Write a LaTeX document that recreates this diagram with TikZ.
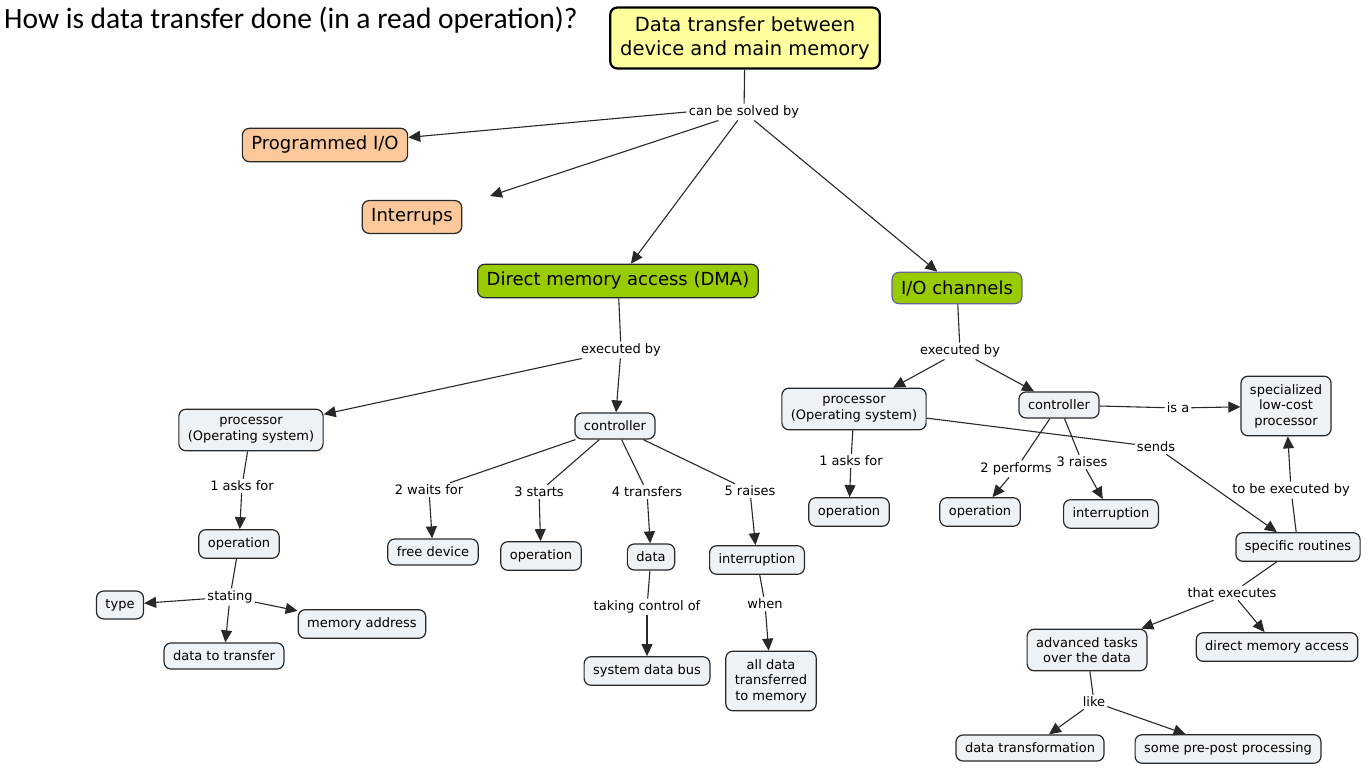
\documentclass[tikz,border=0pt]{standalone}
\usepackage{fontspec}
\setmainfont{DejaVu Sans}
\newfontfamily\titlefont{Carlito}
\usepackage{xcolor}
\usepackage{tikz}
\usetikzlibrary{arrows.meta, positioning, calc}

\definecolor{rootyellow}{RGB}{255,255,158}
\definecolor{methodpeach}{RGB}{250,200,155}
\definecolor{methodgreen}{RGB}{153,204,0}
\definecolor{conceptfill}{RGB}{236,242,245}
\definecolor{linegray}{RGB}{40,40,40}

\tikzset{
  concept/.style={draw=linegray, line width=1.2pt, rounded corners=7pt, fill=conceptfill,
    inner xsep=9pt, inner ysep=8pt, align=center, font=\fontsize{13}{15.5}\selectfont},
  method/.style={concept, fill=methodpeach, font=\fontsize{18}{21}\selectfont, inner ysep=8pt},
  dmabox/.style={method, fill=methodgreen},
  rootbox/.style={concept, fill=rootyellow, draw=black, line width=2.2pt,
    font=\fontsize{19.5}{24}\selectfont, inner xsep=10pt, inner ysep=9pt},
  linkword/.style={inner sep=2pt, font=\fontsize{13}{15.5}\selectfont},
  conn/.style={draw=linegray, line width=1.1pt},
  arr/.style={conn, -{Triangle[length=12pt,width=11pt]}}
}

\begin{document}
\begin{tikzpicture}[x=1pt,y=-1pt]
\useasboundingbox (0,0) rectangle (1370,775);

% Title
\node[anchor=west, inner sep=0pt, font=\titlefont\fontsize{29.5}{34}\selectfont] (title) at (4,20)
  {How is data transfer done (in a read operation)?};

% Root and the four methods
\node[rootbox] (root) at (745,38) {Data transfer between\\device and main memory};
\node[linkword] (solved) at (744,112) {can be solved by};
\node[method] (progio) at (325,145) {Programmed I/O};
\node[method] (interr) at (412,217) {Interrups};
\node[dmabox] (dma) at (618,281) {Direct memory access (DMA)};
\node[dmabox, draw=gray!80!blue] (ioch) at (957,288) {I/O channels};

\draw[conn] (root) -- (solved);
\draw[arr] (solved.west) -- (progio);
\draw[arr] (solved) -- (490,196);
\draw[arr] (solved) -- (dma);
\draw[arr] (solved) -- (ioch);

% DMA branch
\node[linkword] (dmaexec) at (621,350) {executed by};
\node[concept] (dmaproc) at (251,430) {processor\\(Operating system)};
\node[concept] (dmactrl) at (615,426) {controller};
\draw[conn] (dma) -- (dmaexec);
\draw[arr] (dmaexec) -- (dmaproc);
\draw[arr] (dmaexec) -- (dmactrl);

\node[linkword] (asks) at (242,486) {1 asks for};
\node[concept] (oper) at (239,544) {operation};
\node[linkword] (stating) at (230,597) {stating};
\node[concept] (type) at (120,605) {type};
\node[concept] (memaddr) at (362,624) {memory address};
\node[concept] (datatr) at (224,656) {data to transfer};
\draw[conn] (dmaproc) -- (asks);
\draw[arr] (asks) -- (oper);
\draw[conn] (oper) -- (stating);
\draw[arr] (stating) -- (type);
\draw[arr] (stating) -- (memaddr);
\draw[arr] (stating) -- (datatr);

\node[linkword] (waits) at (429,490) {2 waits for};
\node[concept] (freedev) at (433,552) {free device};
\node[linkword] (starts) at (539,492) {3 starts};
\node[concept] (oper3) at (541,556) {operation};
\node[linkword] (transf) at (647,492) {4 transfers};
\node[concept] (data) at (651,557) {data};
\node[linkword] (raises) at (750,491) {5 raises};
\node[concept] (intr) at (757,560) {interruption};
\draw[conn] (dmactrl) -- (waits);
\draw[arr] (waits) -- (freedev);
\draw[conn] (dmactrl) -- (starts);
\draw[arr] (starts) -- (oper3);
\draw[conn] (dmactrl) -- (transf);
\draw[arr] (transf) -- (data);
\draw[conn] (dmactrl) -- (raises);
\draw[arr] (raises) -- (intr);

\node[linkword] (taking) at (647,607) {taking control of};
\node[concept] (bus) at (647,671) {system data bus};
\node[linkword] (when) at (765,604) {when};
\node[concept] (alldata) at (771,681) {all data\\transferred\\to memory};
\draw[conn] (data) -- (taking);
\draw[arr] (taking) -- (bus);
\draw[conn] (intr) -- (when);
\draw[arr] (when) -- (alldata);

% I/O channels branch
\node[linkword] (ioexec) at (960,351) {executed by};
\node[concept] (ioproc) at (854,409) {processor\\(Operating system)};
\node[concept] (ioctrl) at (1059,405) {controller};
\draw[conn] (ioch) -- (ioexec);
\draw[arr] (ioexec) -- (ioproc);
\draw[arr] (ioexec) -- (ioctrl);

\node[linkword] (isa) at (1178,408) {is a};
\node[concept] (special) at (1286,406) {specialized\\low-cost\\processor};
\draw[conn] (ioctrl) -- (isa);
\draw[arr] (isa) -- (special);

\node[linkword] (ioasks) at (851,461) {1 asks for};
\node[concept] (iooper) at (849,512) {operation};
\node[linkword] (performs) at (1016,469) {2 performs};
\node[concept] (iooper2) at (980,512) {operation};
\node[linkword] (ioraises) at (1082,462) {3 raises};
\node[concept] (iointr) at (1111,514) {interruption};
\draw[conn] (ioproc) -- (ioasks);
\draw[arr] (ioasks) -- (iooper);
\draw[conn] (ioctrl) -- (performs);
\draw[arr] (performs) -- (iooper2);
\draw[conn] (ioctrl) -- (ioraises);
\draw[arr] (ioraises) -- (iointr);

\node[linkword] (sends) at (1156,447) {sends};
\node[concept] (routines) at (1298,547) {specific routines};
\node[linkword] (tobeexec) at (1291,490) {to be executed by};
\draw[conn] (ioproc) -- (sends);
\draw[arr] (sends) -- (routines);
\draw[conn] (routines) -- (tobeexec);
\draw[arr] (tobeexec) -- (special);

\node[linkword] (thatexec) at (1232,593) {that executes};
\node[concept] (advanced) at (1087,650) {advanced tasks\\over the data};
\node[concept] (dmaccess) at (1277,647) {direct memory access};
\draw[conn] (routines) -- (thatexec);
\draw[arr] (thatexec) -- (advanced);
\draw[arr] (thatexec) -- (dmaccess);

\node[linkword] (like) at (1094,702) {like};
\node[concept] (transform) at (1030,748) {data transformation};
\node[concept] (prepost) at (1228,749) {some pre-post processing};
\draw[conn] (advanced) -- (like);
\draw[arr] (like) -- (transform);
\draw[arr] (like) -- (prepost);

\end{tikzpicture}
\end{document}
